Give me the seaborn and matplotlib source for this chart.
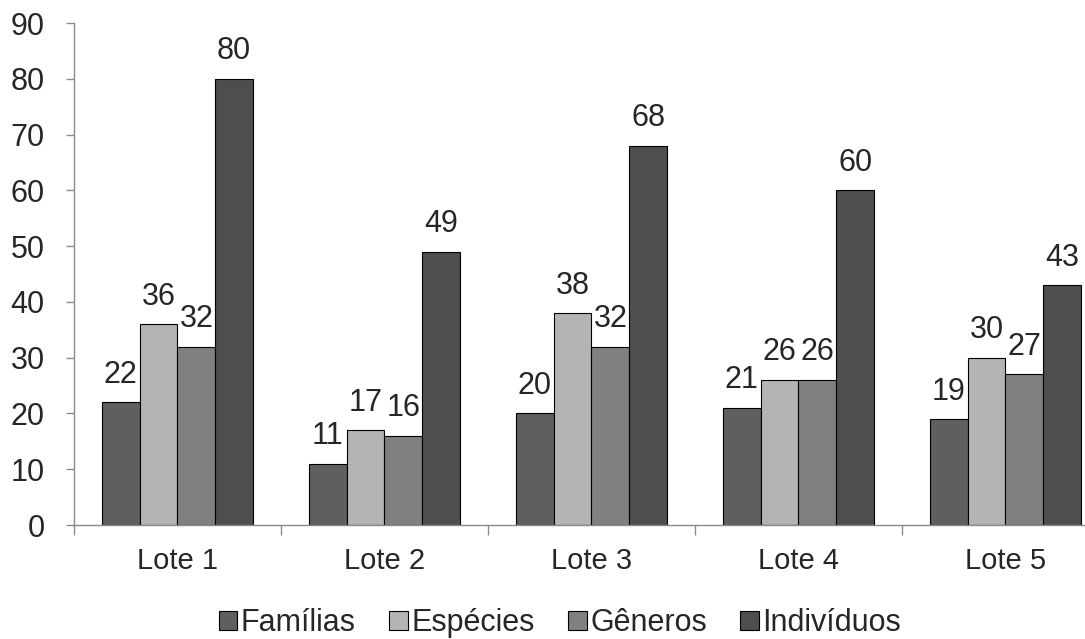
import matplotlib
matplotlib.use("Agg")
import matplotlib.pyplot as plt
import seaborn as sns
import pandas as pd
from matplotlib.ticker import FixedLocator

lotes = ["Lote 1", "Lote 2", "Lote 3", "Lote 4", "Lote 5"]
series = ["Famílias", "Espécies", "Gêneros", "Indivíduos"]
familias = [22, 11, 20, 21, 19]
especies = [36, 17, 38, 26, 30]
generos = [32, 16, 32, 26, 27]
individuos = [80, 49, 68, 60, 43]
colors = ["#5f5f5f", "#b4b4b4", "#808080", "#4e4e4e"]

rows = []
for name, vals in zip(series, [familias, especies, generos, individuos]):
    for lote, v in zip(lotes, vals):
        rows.append({"Lote": lote, "Grupo": name, "Valor": v})
df = pd.DataFrame(rows)

sns.set_style("white")
plt.rcParams["font.family"] = ["Liberation Sans", "DejaVu Sans"]

fig = plt.figure(figsize=(10.85, 6.39), dpi=100)
ax = fig.add_axes([0.0682, 0.1784, 0.9539, 0.7856])

sns.barplot(data=df, x="Lote", y="Valor", hue="Grupo", palette=colors,
            width=0.73, gap=0, edgecolor="black", linewidth=0.8,
            errorbar=None, ax=ax)

for cont in ax.containers:
    ax.bar_label(cont, fmt="%d", padding=9, fontsize=22)

ax.set_xlim(-0.5, 4.5)
ax.set_ylim(0, 90)
ax.set_yticks(range(0, 91, 10))
ax.set_xlabel("")
ax.set_ylabel("")

for side in ["top", "right"]:
    ax.spines[side].set_visible(False)
for side in ["left", "bottom"]:
    ax.spines[side].set_color("#8a8a8a")
    ax.spines[side].set_linewidth(1.0)

ax.tick_params(axis="y", which="major", direction="out", length=6,
               width=1.0, color="#8a8a8a", pad=15, labelsize=22,
               left=True)
ax.tick_params(axis="x", which="major", length=0, pad=16, labelsize=21)
ax.xaxis.set_minor_locator(FixedLocator([-0.5, 0.5, 1.5, 2.5, 3.5, 4.5]))
ax.tick_params(axis="x", which="minor", direction="out", length=7,
               width=1.0, color="#8a8a8a", bottom=True)

handles, labels = ax.get_legend_handles_labels()
ax.legend_.remove()
fig.legend(handles, labels, loc="center", bbox_to_anchor=(0.516, 0.025),
           ncol=4, frameon=False, fontsize=22, handlelength=0.62,
           handleheight=0.6, handletextpad=0.1, columnspacing=1.1,
           borderpad=0)

fig.savefig("out.png", dpi=100)
